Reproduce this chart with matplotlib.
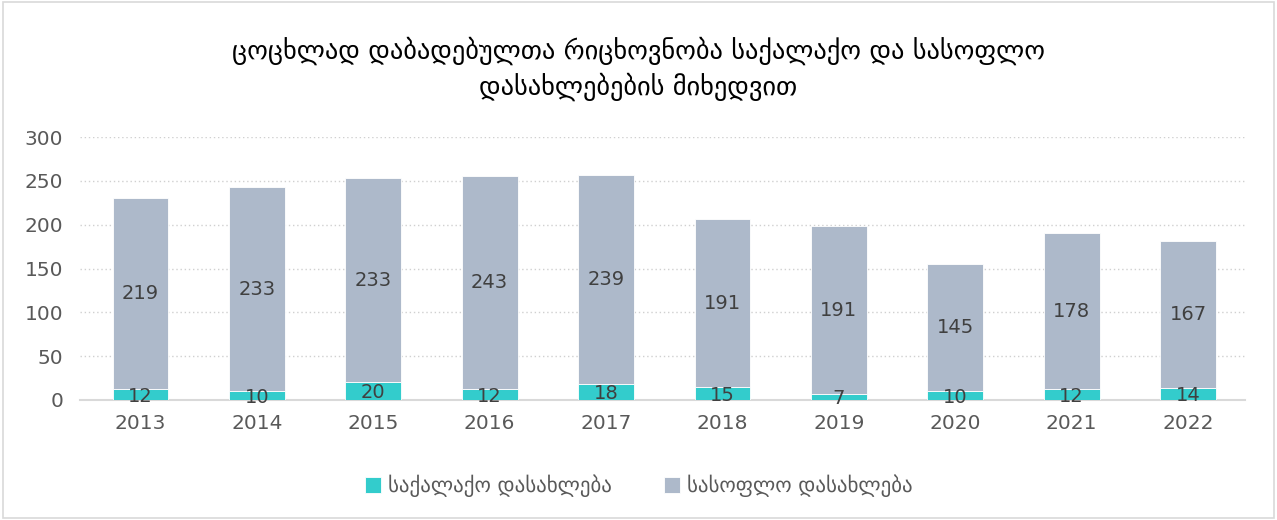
import numpy as np
import matplotlib as mpl
mpl.rc('font', family=['DejaVu Sans'])
import matplotlib.pyplot as plt
from matplotlib.patches import Rectangle

years = ['2013', '2014', '2015', '2016', '2017', '2018', '2019', '2020',
         '2021', '2022']
urban = [12, 10, 20, 12, 18, 15, 7, 10, 12, 14]
rural = [219, 233, 233, 243, 239, 191, 191, 145, 178, 167]

title = ('ცოცხლად დაბადებულთა რიცხოვნობა საქალაქო და სასოფლო\n'
         'დასახლებების მიხედვით')
urban_label = 'საქალაქო დასახლება'
rural_label = 'სასოფლო დასახლება'

col_urban = '#33CCCC'
col_rural = '#ADB9CA'
txt_col = '#595959'

fig = plt.figure(figsize=(12.77, 5.2), dpi=100)
ax = fig.add_axes([0.0626, 0.2308, 0.9124, 0.5057])

x = np.arange(len(years))
urban = np.array(urban)
rural = np.array(rural)

b1 = ax.bar(x, urban, width=0.48, color=col_urban, edgecolor='white',
            linewidth=0.6, label=urban_label, zorder=3)
b2 = ax.bar(x, rural, width=0.48, bottom=urban, color=col_rural,
            edgecolor='white', linewidth=0.6, label=rural_label, zorder=3)

for xi, u, r in zip(x, urban, rural):
    ax.text(xi, u / 2 - 2, str(u), ha='center', va='center', fontsize=14,
            color='#404040', zorder=4)
    ax.text(xi, u + r / 2, str(r), ha='center', va='center', fontsize=14,
            color='#404040', zorder=4)

ax.set_xlim(-0.52, 9.49)
ax.set_ylim(0, 300)
ax.set_yticks(np.arange(0, 301, 50))
ax.set_xticks(x)
ax.set_xticklabels(years)
ax.tick_params(axis='both', length=0, labelsize=14.5, colors=txt_col)
ax.tick_params(axis='y', pad=12)
ax.tick_params(axis='x', pad=10)

ax.grid(axis='y', linestyle=(0, (1, 2)), color='#D0D0D0', linewidth=1,
        zorder=0)
for side in ['top', 'right', 'left']:
    ax.spines[side].set_visible(False)
ax.spines['bottom'].set_color('#D9D9D9')
ax.spines['bottom'].set_linewidth(1.5)

fig.text(0.5, 0.868, title, ha='center', va='center', fontsize=19,
         color='black', linespacing=1.35)

fig.legend(handles=[b1, b2], loc='center', bbox_to_anchor=(0.5, 0.065),
           ncol=2, frameon=False, fontsize=15, labelcolor=txt_col,
           handlelength=0.8, handleheight=0.8, handletextpad=0.3,
           columnspacing=2.5)

fig.patches.append(Rectangle((0.002, 0.003), 0.996, 0.994,
                             transform=fig.transFigure, fill=False,
                             edgecolor='#D9D9D9', linewidth=1.2))

fig.savefig('out.png', dpi=100)
